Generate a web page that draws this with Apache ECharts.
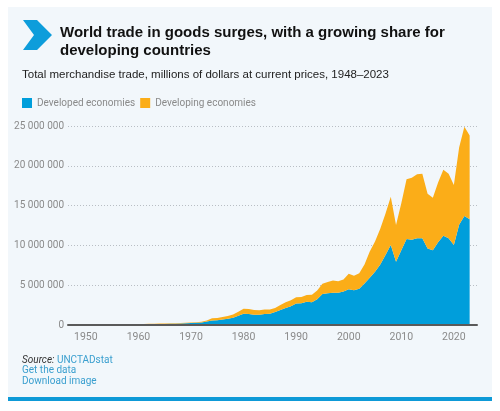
<!DOCTYPE html>
<html>
<head>
<meta charset="utf-8">
<script src="https://cdn.jsdelivr.net/npm/echarts@6/dist/echarts.min.js"></script>
<style>
html,body{margin:0;padding:0;background:#ffffff;}
#chart{width:500px;height:411px;}
</style>
</head>
<body>
<div id="chart"></div>
<script>
const years = [];
for (let y = 1948; y <= 2023; y++) years.push(y);

// millions of dollars
const developed = [
  40000, 41000, 41000, 55000, 54000, 56000, 59000, 65000, 73000, 80000,
  77000, 83000, 94000, 98000, 104000, 114000, 128000, 140000, 155000, 164000,
  184000, 212000, 245000, 274000, 325000, 440000, 570000, 610000, 680000, 780000,
  920000, 1150000, 1400000, 1380000, 1300000, 1290000, 1370000, 1400000, 1620000, 1900000,
  2150000, 2350000, 2700000, 2720000, 2920000, 2850000, 3250000, 3900000, 4000000, 4050000,
  4050000, 4200000, 4500000, 4350000, 4550000, 5200000, 5950000, 6700000, 7600000, 8800000,
  10050000, 7950000, 9400000, 10800000, 10700000, 10900000, 10900000, 9600000, 9400000, 10400000,
  11200000, 10900000, 10050000, 12600000, 13700000, 13300000
];
const developing = [
  19000, 18000, 21000, 28000, 27000, 26000, 27000, 29000, 31000, 33000,
  32000, 33000, 36000, 37000, 38000, 43000, 47000, 50000, 53000, 54000,
  59000, 66000, 73000, 80000, 95000, 140000, 270000, 270000, 310000, 350000,
  390000, 510000, 650000, 640000, 580000, 550000, 580000, 560000, 530000, 620000,
  720000, 750000, 800000, 810000, 860000, 950000, 1080000, 1270000, 1400000, 1540000,
  1450000, 1520000, 1950000, 1840000, 1940000, 2390000, 3270000, 3800000, 4500000, 5200000,
  6050000, 4600000, 5900000, 7500000, 7800000, 8050000, 8100000, 6900000, 6600000, 7500000,
  8300000, 8100000, 7550000, 9700000, 11200000, 10500000
];
const xTicks = [1950, 1960, 1970, 1980, 1990, 2000, 2010, 2020];
const seriesNames = ['Developed economies', 'Developing economies'];
const titleText = 'World trade in goods surges, with a growing share for\ndeveloping countries';
const subtitleText = 'Total merchandise trade, millions of dollars at current prices, 1948\u20132023';

const BLUE = '#009edb';
const ORANGE = '#fbad18';
const NARROW = "Roboto, 'Liberation Sans', Arial, sans-serif";
const SANS = "'Liberation Sans', Arial, Helvetica, sans-serif";

function fmt(v) {
  return String(Math.round(v)).replace(/\B(?=(\d{3})+(?!\d))/g, ' ');
}

const chart = echarts.init(document.getElementById('chart'), null, {renderer: 'canvas'});
chart.setOption({
  backgroundColor: '#ffffff',
  animation: false,
  title: [
    {
      text: titleText, left: 60, top: 24, padding: 0,
      textStyle: {fontFamily: SANS, fontSize: 15, fontWeight: 'bold', color: '#111', lineHeight: 18}
    },
    {
      text: subtitleText, left: 22, top: 69, padding: 0,
      textStyle: {fontFamily: SANS, fontSize: 11.5, fontWeight: 'normal', color: '#222'}
    }
  ],
  legend: {
    left: 22, top: 98, padding: 0, icon: 'rect', itemWidth: 10, itemHeight: 10, itemGap: 5,
    textStyle: {fontFamily: NARROW, fontSize: 10, color: '#8a8a8a'},
    data: seriesNames
  },
  graphic: [
    {type: 'rect', z: -10, shape: {x: 8, y: 7, width: 484, height: 390}, style: {fill: '#f2f7fb'}},
    {type: 'rect', z: -10, shape: {x: 8, y: 397, width: 484, height: 4}, style: {fill: '#0e9ad7'}},
    {type: 'polygon', shape: {points: [[23,20],[37,20],[52,35],[37,50],[23,50],[34,35]]}, style: {fill: '#0d9ddb'}},
    {type: 'text', left: 22, top: 355, style: {
      text: '{i|Source:} {b|UNCTADstat}\n{b|Get the data}\n{b|Download image}',
      fontFamily: NARROW, fontSize: 10, lineHeight: 10.5, fill: '#3a9fcf',
      rich: {
        i: {fontStyle: 'italic', fill: '#333', fontFamily: NARROW, fontSize: 10, lineHeight: 10.5},
        b: {fill: '#3a9fcf', fontFamily: NARROW, fontSize: 10, lineHeight: 10.5}
      }
    }}
  ],
  grid: {left: 68, right: 23, top: 126, bottom: 86},
  xAxis: {
    type: 'value', min: 1946.6, max: 2024.4, z: 5,
    axisLine: {show: true, onZero: false, lineStyle: {color: '#5a5a5a', width: 2}},
    axisTick: {show: false},
    splitLine: {show: false},
    axisLabel: {customValues: xTicks, formatter: v => String(v), color: '#8a8a8a', fontFamily: NARROW, fontSize: 10.5, margin: 7}
  },
  yAxis: {
    type: 'value', min: 0, max: 25000000, interval: 5000000,
    axisLine: {show: false}, axisTick: {show: false},
    splitLine: {show: true, lineStyle: {color: '#b9bec4', type: [1, 2], width: 1}},
    axisLabel: {formatter: fmt, color: '#8a8a8a', fontFamily: NARROW, fontSize: 10, margin: 4}
  },
  series: [
    {
      name: seriesNames[0], type: 'line', stack: 'total', symbol: 'none',
      encode: {x: 1, y: 0},
      lineStyle: {width: 0}, areaStyle: {color: BLUE, opacity: 1}, itemStyle: {color: BLUE},
      data: years.map((y, i) => [developed[i], y])
    },
    {
      name: seriesNames[1], type: 'line', stack: 'total', symbol: 'none',
      encode: {x: 1, y: 0},
      lineStyle: {width: 0}, areaStyle: {color: ORANGE, opacity: 1}, itemStyle: {color: ORANGE},
      data: years.map((y, i) => [developing[i], y])
    }
  ]
});
</script>
</body>
</html>
